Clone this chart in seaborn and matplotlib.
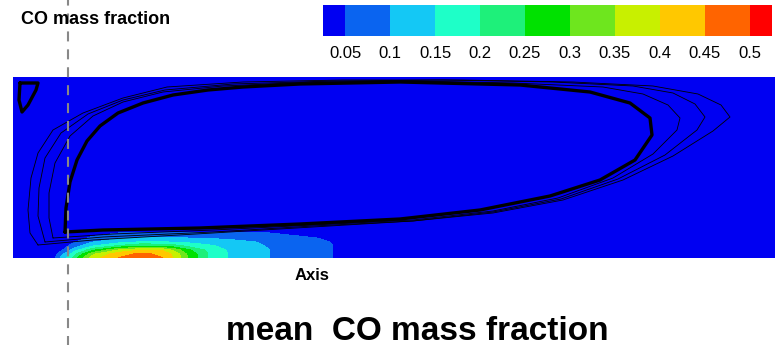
import numpy as np
import pandas as pd
import seaborn as sns
import matplotlib.pyplot as plt

# ---------- Data ----------
# axial stations (mm) and radial stations (mm) where CO mass fraction was sampled
co_x = [0, 35, 42, 48, 55, 62, 80, 105, 128, 150, 162, 175, 195, 215, 257, 320, 380, 762]
co_y = [0, 4, 8, 12, 16, 20, 25, 32, 181]

# one row per radial station
co_r0 = [0, 0, 0.05, 0.11, 0.16, 0.23, 0.38, 0.45, 0.48, 0.45, 0.39, 0.30, 0.20, 0.15, 0.10, 0.05, 0.02, 0]
co_r4 = [0, 0, 0.03, 0.08, 0.13, 0.19, 0.34, 0.43, 0.46, 0.44, 0.38, 0.29, 0.20, 0.15, 0.10, 0.05, 0.02, 0]
co_r8 = [0, 0, 0, 0.04, 0.08, 0.13, 0.24, 0.35, 0.40, 0.39, 0.33, 0.26, 0.19, 0.145, 0.10, 0.05, 0.02, 0]
co_r12 = [0, 0, 0, 0.01, 0.05, 0.08, 0.15, 0.21, 0.25, 0.24, 0.22, 0.19, 0.16, 0.135, 0.095, 0.05, 0.02, 0]
co_r16 = [0, 0, 0, 0, 0.02, 0.05, 0.10, 0.13, 0.155, 0.155, 0.145, 0.14, 0.13, 0.12, 0.09, 0.048, 0.018, 0]
co_r20 = [0, 0, 0, 0, 0, 0.03, 0.06, 0.09, 0.102, 0.102, 0.102, 0.10, 0.095, 0.09, 0.08, 0.04, 0.015, 0]
co_r25 = [0, 0, 0, 0, 0, 0.01, 0.03, 0.05, 0.052, 0.052, 0.052, 0.052, 0.052, 0.052, 0.05, 0.03, 0.01, 0]
co_r32 = [0, 0, 0, 0, 0, 0, 0, 0.01, 0.01, 0.01, 0.01, 0.01, 0.01, 0.01, 0.01, 0.005, 0, 0]
co_r181 = [0] * len(co_x)

levels = [0.05, 0.1, 0.15, 0.2, 0.25, 0.3, 0.35, 0.4, 0.45, 0.5]
tick_labels = ['0.05', '0.1', '0.15', '0.2', '0.25', '0.3', '0.35', '0.4', '0.45', '0.5']
band_colors = ['#0000f2', '#0a64f0', '#14c8f5', '#1effc8', '#1ef07a', '#00e100',
               '#6ee61e', '#c8f000', '#ffc800', '#ff6400', '#ff0000']

# streamlines of the recirculation zone (x, y in mm)
inner_x = [52, 90, 187, 287, 387, 467, 537, 587, 622, 639, 637, 617, 577, 507, 387, 287, 230, 195, 160, 130, 105, 87, 74, 64, 57, 53, 52]
inner_y = [26, 28, 30, 34, 39, 48, 62, 78, 98, 123, 140, 155, 166, 173, 176, 174, 171, 168, 163, 155, 145, 132, 117, 98, 76, 50, 26]
mid_a_x = [40, 100, 200, 300, 400, 480, 545, 600, 640, 664, 667, 655, 630, 590, 500, 400, 300, 210, 150, 110, 80, 57, 42, 36, 36, 40]
mid_a_y = [20, 24, 28, 33, 38, 47, 60, 80, 104, 128, 140, 153, 164, 171, 175, 177, 176, 172, 166, 156, 142, 122, 95, 65, 40, 20]
mid_b_x = [32, 90, 200, 300, 400, 480, 548, 605, 652, 684, 692, 682, 660, 620, 540, 430, 320, 220, 152, 110, 75, 48, 32, 26, 25, 32]
mid_b_y = [16, 21, 26, 32, 37, 46, 59, 79, 103, 128, 141, 154, 165, 172, 176, 178, 177, 174, 168, 158, 144, 125, 100, 70, 42, 16]
outer_x = [25, 80, 200, 300, 400, 480, 550, 610, 660, 700, 717, 708, 685, 640, 560, 450, 330, 230, 154, 110, 70, 40, 25, 18, 15, 17, 25]
outer_y = [13, 18, 25, 31, 37, 45, 58, 78, 102, 127, 141, 153, 164, 172, 176, 178, 178, 176, 171, 160, 145, 128, 105, 80, 48, 25, 13]
corner_x = [7, 25, 23, 15, 9, 6, 7]
corner_y = [175, 175, 168, 153, 146, 158, 175]

probe_x = 55  # dashed measurement line

# ---------- Figure ----------
sns.set_style('white')
plt.rcParams['font.family'] = ['Liberation Sans', 'DejaVu Sans']
plt.rcParams['text.color'] = 'black'
plt.rcParams['xtick.color'] = 'black'

fig = plt.figure(figsize=(7.8, 3.45), dpi=100)
ax = fig.add_axes([13 / 780, 1 - 258 / 345, 762 / 780, 181 / 345])

X, Y = np.meshgrid(co_x, co_y)
Z = np.array([co_r0, co_r4, co_r8, co_r12, co_r16, co_r20, co_r25, co_r32, co_r181])
cs = ax.contourf(X, Y, Z, levels=levels, colors=band_colors, extend='both')

loops = [
	(mid_b_x, mid_b_y, 0.6),
	(outer_x, outer_y, 0.6),
	(mid_a_x, mid_a_y, 0.6),
	(inner_x, inner_y, 2.4),
	(corner_x, corner_y, 2.4),
]
for lx, ly, lw in loops:
	df = pd.DataFrame({'x': lx, 'y': ly})
	sns.lineplot(data=df, x='x', y='y', sort=False, estimator=None, color='black',
	             lw=lw, ax=ax, legend=False)

ax.set_xlim(0, 762)
ax.set_ylim(0, 181)
ax.set_xticks([])
ax.set_yticks([])
ax.set_xlabel('')
ax.set_ylabel('')
for s in ax.spines.values():
	s.set_visible(False)

# dashed line across the whole figure
ax.axvline(probe_x, ymin=-0.5, ymax=1.45, clip_on=False, color='#888888', lw=1.5,
           linestyle=(0, (4.8, 3.8)), zorder=5)

# colour legend (extensions are drawn inside the axes box)
cax = fig.add_axes([323 / 780, 1 - 36 / 345, 449 / 780, 31 / 345])
cb = fig.colorbar(cs, cax=cax, orientation='horizontal', extend='both',
                  extendrect=True, extendfrac=0.5 / 9)
cb.outline.set_visible(False)
cb.set_ticks(levels, labels=tick_labels)
cax.tick_params(length=0, labelsize=12, pad=7, labelcolor='black')

fig.text(21 / 780, 1 - 20 / 345, 'CO mass fraction', fontsize=13, fontweight='bold',
         ha='left', va='center')
fig.text(312 / 780, 1 - 275 / 345, 'Axis', fontsize=12, fontweight='bold',
         ha='center', va='center')
fig.text(417 / 780, 1 - 331 / 345, 'mean  CO mass fraction', fontsize=24,
         fontweight='bold', ha='center', va='center')

fig.savefig('out.png', dpi=100)
